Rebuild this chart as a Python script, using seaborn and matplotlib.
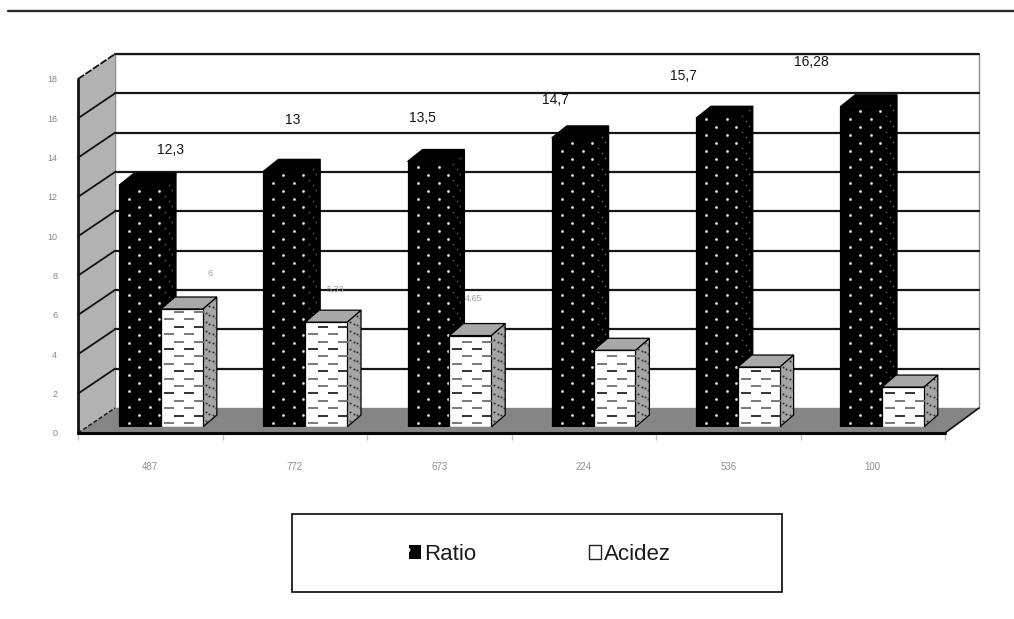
import matplotlib
matplotlib.use("Agg")
import matplotlib.pyplot as plt
from matplotlib.patches import Patch, Polygon, Rectangle
from matplotlib.lines import Line2D
import numpy as np
import pandas as pd
import seaborn as sns

muestras = ['487', '772', '673', '224', '536', '100']
ratio = [12.3, 13, 13.5, 14.7, 15.7, 16.28]
acidez = [6, 5.33, 4.65, 3.9, 3.05, 2.03]
ticks_y = [0, 2, 4, 6, 8, 10, 12, 14, 16, 18]
acidez_con_etiqueta = 3  # the other labels are lost behind the black bars

W, H = 1014, 619
PX_CAT = 144.5   # px per category, frame
PX_BAR = 144.2   # px per category, bars
PX_VAL = 19.67   # px per unit

sns.set_theme(style='white')
plt.rcParams['font.family'] = ['Liberation Sans', 'DejaVu Sans']
plt.rcParams['hatch.linewidth'] = 0.8

df = pd.DataFrame({
    'muestra': muestras * 2,
    'serie': ['Ratio'] * 6 + ['Acidez'] * 6,
    'valor': ratio + acidez,
})


def box(left, top, right, bottom):
    return [left / W, 1 - bottom / H, (right - left) / W, (bottom - top) / H]


fig = plt.figure(figsize=(W / 100, H / 100), dpi=100, facecolor='white')

# frame: floor, walls and grid
frame = fig.add_axes(box(78, 79, 945, 433))
frame.set_xlim(-0.5, 5.5)
frame.set_ylim(0, 18)
frame.patch.set_alpha(0)
sns.despine(ax=frame, left=True, bottom=True, right=True, top=True)

dx = 37 / PX_CAT
dx_r = 34 / PX_CAT
dy = 25 / PX_VAL
x0, x1 = -0.5, 5.5
frame.add_patch(Polygon([(x0 + dx, dy), (x1 + dx_r, dy), (x1 + dx_r, 18 + dy), (x0 + dx, 18 + dy)],
                        fc='white', ec='#8a8a8a', lw=1, clip_on=False, zorder=1))
frame.add_patch(Polygon([(x0, 0), (x0 + dx, dy), (x0 + dx, 18 + dy), (x0, 18)],
                        fc='#b2b2b2', ec='none', clip_on=False, zorder=1))
frame.add_patch(Polygon([(x0, 0), (x1, 0), (x1 + dx_r, dy), (x0 + dx, dy)],
                        fc='#858585', ec='none', clip_on=False, zorder=1))
for v in ticks_y[1:]:
    frame.plot([x0, x0 + dx], [v, v + dy], color='#111111', lw=1.3, clip_on=False, zorder=2,
               ls=(0, (4, 1)) if v == 18 else '-')
    frame.plot([x0 + dx, x1 + dx_r], [v + dy, v + dy], color='#161616', lw=1.6, clip_on=False, zorder=2)
frame.plot([x0, x0 + dx], [0, dy], color='#111111', lw=1, ls=(0, (3, 1.5)), clip_on=False, zorder=2)
frame.plot([x0, x0], [0, 18], color='#111111', lw=2, clip_on=False, zorder=3)
frame.plot([x0, x1], [0, 0], color='#050505', lw=2.2, clip_on=False, zorder=3)
frame.plot([x1, x1 + dx_r], [0, dy], color='#111111', lw=1.2, clip_on=False, zorder=3)

frame.set_yticks(ticks_y)
frame.set_yticklabels([str(t) for t in ticks_y], fontsize=6.5, color='#858585')
frame.set_xticks(range(6))
frame.set_xticklabels(muestras, fontsize=7, color='#8f8f8f')
frame.set_xticks(np.arange(-0.5, 6), minor=True)
frame.tick_params(axis='y', length=0, pad=15)
frame.tick_params(axis='x', which='major', length=0, pad=21)
frame.tick_params(axis='x', which='minor', bottom=True, length=5, width=1, color='#c4c4c4', direction='out')

# bars, offset inside the depth of the frame
ax = fig.add_axes(box(88.9, 73, 954.1, 427))
ax.patch.set_alpha(0)
sns.barplot(data=df, x='muestra', y='valor', hue='serie', order=muestras,
            hue_order=['Ratio', 'Acidez'], palette={'Ratio': 'black', 'Acidez': 'white'},
            width=0.58, gap=0, saturation=1, edgecolor='black', linewidth=0.9,
            legend=False, ax=ax)
ax.set_xlim(-0.5, 5.5)
ax.set_ylim(0, 18)
ax.axis('off')


def dots(xs, ys, clip, **kw):
    coll = ax.scatter(xs, ys, linewidths=kw.pop('linewidths', 0), clip_on=True, **kw)
    coll.set_clip_path(clip)


def dress_bar(bar, depth_x, depth_y, top_col, side_col, z, ratio_bar):
    x, w, h = bar.get_x(), bar.get_width(), bar.get_height()
    ddx, ddy = depth_x / PX_BAR, depth_y / PX_VAL
    bar.set_zorder(z + 1)
    side = Polygon([(x + w, 0), (x + w + ddx, ddy), (x + w + ddx, h + ddy), (x + w, h)],
                   fc=side_col, ec='black', lw=0.9, zorder=z)
    top = Polygon([(x, h), (x + ddx, h + ddy), (x + w + ddx, h + ddy), (x + w, h)],
                  fc=top_col, ec='black', lw=0.9, zorder=z)
    ax.add_patch(side)
    ax.add_patch(top)

    height_px = h * PX_VAL
    rows = np.arange(4, height_px, 8 if ratio_bar else 7.4)
    if ratio_bar:
        xa, ya, xb, yb = [], [], [], []
        for i, r in enumerate(rows):
            for c in ((10, 31) if i % 2 == 0 else (20, 40)):
                xa.append(x + c / PX_BAR)
                ya.append(r / PX_VAL)
        dots(xa, ya, bar, s=4, c='#e0e0e0', marker='o', zorder=z + 2)
        for i, r in enumerate(rows):
            for c in ((4, 11) if i % 2 == 0 else (8,)):
                xb.append(x + w + c / PX_BAR)
                yb.append((r + c * depth_y / depth_x) / PX_VAL)
        dots(xb, yb, side, s=2, c='#484848', marker='o', zorder=z + 1)
    else:
        for i, r in enumerate(rows):
            cols = np.array((8, 28) if i % 2 == 0 else (18, 38))
            col = '#222222' if i % 3 == 1 else '#6e6e6e'
            dots(x + cols / PX_BAR, np.full(2, r) / PX_VAL, bar, s=50, c=col, marker='_',
                 linewidths=1.3, zorder=z + 2)
        sx, sy = [], []
        for i, r in enumerate(np.arange(3, height_px + depth_y, 4.5)):
            for c in ((3, 10) if i % 2 == 0 else (6.5, 13)):
                sx.append(x + w + c / PX_BAR)
                sy.append((r + c * depth_y / depth_x) / PX_VAL)
        dots(sx, sy, side, s=2.2, c='#333333', marker='o', zorder=z + 1)


for bar in ax.containers[0]:
    dress_bar(bar, 15, 12, 'black', 'black', 3, True)
for bar in ax.containers[1]:
    dress_bar(bar, 14, 12, '#a8a8a8', '#a5a5a5', 7, False)

# data labels sit away from the bars in the original
off_ratio = [(30, 35), (8, 51), (-6, 44), (-17, 38), (-33, 42), (-50, 45)]
off_acidez = [(28, 35), (9, 33), (3, 37)]
for bar, v, off in zip(ax.containers[0], ratio, off_ratio):
    ax.annotate(f'{v:g}'.replace('.', ','), (bar.get_x() + bar.get_width() / 2, v), xytext=off,
                textcoords='offset pixels', ha='center', va='center', fontsize=10,
                color='#141414', zorder=20, annotation_clip=False)
for bar, v, off in zip(list(ax.containers[1])[:acidez_con_etiqueta], acidez, off_acidez):
    ax.annotate(f'{v:g}'.replace('.', ','), (bar.get_x() + bar.get_width() / 2, v), xytext=off,
                textcoords='offset pixels', ha='center', va='center', fontsize=6.5,
                color='#a0a0a0', zorder=20, annotation_clip=False)

# legend box and header rule
fig.add_artist(Rectangle((292 / W, 1 - 592 / H), 490 / W, 78 / H, transform=fig.transFigure,
                         fc='white', ec='#1a1a1a', lw=1.3))
fig.add_artist(Line2D([8 / W, 1], [1 - 11 / H, 1 - 11 / H], color='#2a2a2a', lw=1.7))

handles = [Patch(fc='black', ec='#dddddd', hatch='.', lw=0),
           Patch(fc='white', ec='#222222', lw=1)]
fig.legend(handles, ['Ratio', 'Acidez'], loc='center', bbox_to_anchor=(540 / W, 1 - 554 / H),
           ncol=2, frameon=False, fontsize=16, handlelength=0.55, handleheight=0.6,
           handletextpad=0.12, columnspacing=5.1, labelcolor='#1a1a1a')

fig.savefig('out.png', dpi=100, facecolor='white')
